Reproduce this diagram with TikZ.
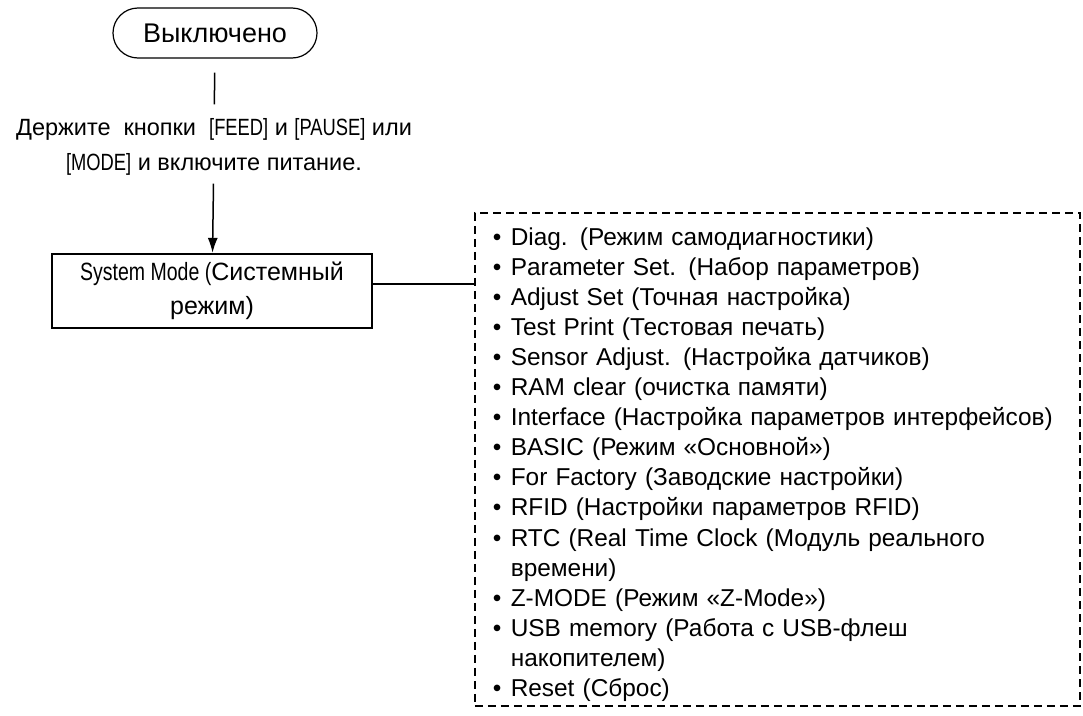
\documentclass[tikz,border=0pt]{standalone}
\usepackage{fontspec}
\setmainfont{Liberation Sans}
\newfontfamily\schmal[FakeStretch=0.78]{Liberation Sans}
\usetikzlibrary{arrows.meta}

% Listenpunkte
\newcommand{\punkt}[1]{\mbox{\makebox[18pt][l]{\textbullet}#1}}
\newcommand{\weiter}[1]{\mbox{\hspace*{18pt}#1}}

\begin{document}
\begin{tikzpicture}[x=1pt, y=-1pt,
    start/.style={draw, line width=1.2pt, rounded corners=25pt, minimum width=204pt, minimum height=50pt},
    modus/.style={draw, line width=2.2pt, minimum width=320pt, minimum height=74pt, align=center},
    rahmen/.style={draw, dash pattern=on 8pt off 5pt, line width=1.6pt},
    >={Latex[length=15pt,width=10pt]},   %Pfeilspitzen
    font=\fontsize{24.4}{30.1}\selectfont]
    %Bildbereich
    \useasboundingbox (0,0) rectangle (1083,715);
    % Knoten
    \node[start, font=\fontsize{27}{30}\selectfont] (aus) at (215,33) {Выключено};
    \node[align=center, inner sep=0pt, font=\fontsize{23.5}{35}\selectfont] (hinweis) at (214,147)
        {Держите\ \ кнопки\ \ {\schmal[FEED]} и {\schmal[PAUSE]} или\\{\schmal[MODE]} и включите питание.};
    \node[modus, font=\fontsize{25}{34}\selectfont] (sys) at (212,291) {{\schmal System Mode (}Системный\\режим)};
    \node[rahmen, anchor=north west, text width=569pt, inner xsep=18pt, minimum height=493pt, align=left] (liste) at (474,212) {%
        \rule{0pt}{28pt}\punkt{Diag. (Режим самодиагностики)}\\
        \punkt{Parameter Set. (Набор параметров)}\\
        \punkt{Adjust Set (Точная настройка)}\\
        \punkt{Test Print (Тестовая печать)}\\
        \punkt{Sensor Adjust. (Настройка датчиков)}\\
        \punkt{RAM clear (очистка памяти)}\\
        \punkt{Interface (Настройка параметров интерфейсов)}\\
        \punkt{BASIC (Режим «Основной»)}\\
        \punkt{For Factory (Заводские настройки)}\\
        \punkt{RFID (Настройки параметров RFID)}\\
        \punkt{RTC (Real Time Clock (Модуль реального}\\
        \weiter{времени)}\\
        \punkt{Z-MODE (Режим «Z-Mode»)}\\
        \punkt{USB memory (Работа с USB-флеш}\\
        \weiter{накопителем)}\\
        \punkt{Reset (Сброс)}};
    % Verbindungen
    \draw[line width=1.5pt, shorten <=14pt, shorten >=14pt] (aus) -- (hinweis);
    \draw[->, line width=1.5pt, shorten <=8pt] (hinweis) -- (sys);
    \draw[line width=1.8pt] ([yshift=7pt]sys.east) -- ([yshift=7pt]sys.east -| liste.west);
\end{tikzpicture}
\end{document}
